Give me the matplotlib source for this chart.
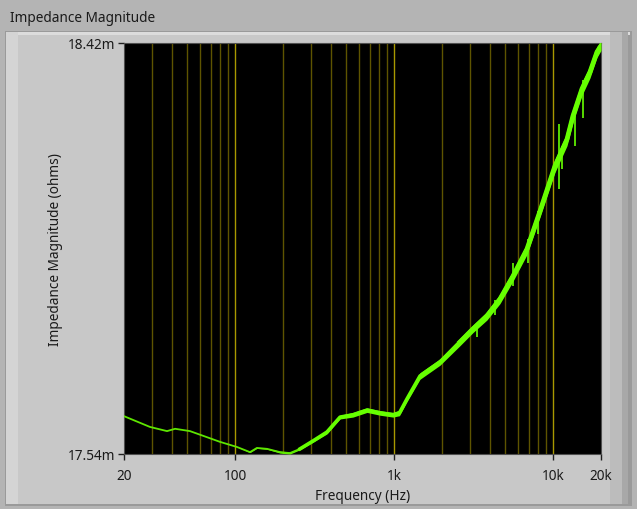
import numpy as np
import matplotlib
matplotlib.use("Agg")
import matplotlib.pyplot as plt
from matplotlib.patches import Rectangle
from matplotlib.ticker import FixedLocator, NullFormatter

plt.rcParams['font.family'] = ['Noto Sans', 'DejaVu Sans']

# ---- data (frequency in Hz, impedance magnitude in milliohms) ----
freq_hz = [20, 29.1, 37.3, 41.9, 52.0, 66.5, 80.3, 102.7, 124, 137, 159, 191.5, 221,
           256, 309, 378, 457, 551, 675, 815, 984, 1080, 1205, 1454, 1942, 2596,
           3133, 3838, 4633, 5592, 6848, 8268, 10272, 12226, 13332, 15190, 17052,
           18873, 20000]
impedance_mohm = [17.621, 17.598, 17.589, 17.594, 17.589, 17.576, 17.566, 17.555,
                  17.544, 17.553, 17.551, 17.544, 17.542, 17.551, 17.568, 17.587,
                  17.619, 17.624, 17.634, 17.628, 17.624, 17.628, 17.658, 17.707,
                  17.737, 17.780, 17.808, 17.836, 17.872, 17.921, 17.979, 18.060,
                  18.157, 18.214, 18.264, 18.322, 18.358, 18.401, 18.414]
# half-width of the noise band (milliohms)
noise_mohm = [0.0, 0.0, 0.0, 0.0, 0.0, 0.0, 0.0, 0.0, 0.001, 0.001, 0.001, 0.002,
              0.002, 0.002, 0.003, 0.004, 0.004, 0.005, 0.005, 0.005, 0.005, 0.006,
              0.006, 0.007, 0.007, 0.008, 0.008, 0.009, 0.010, 0.011, 0.012, 0.013,
              0.014, 0.014, 0.014, 0.014, 0.013, 0.012, 0.010]
# visible noise spikes: frequency, lower and upper value (milliohms)
spike_hz = [3300, 4300, 5600, 6900, 8000, 10900, 11400, 13800, 15400]
spike_low = [17.790, 17.838, 17.900, 17.950, 18.010, 18.107, 18.150, 18.200, 18.260]
spike_high = [17.820, 17.870, 17.950, 18.000, 18.060, 18.247, 18.200, 18.280, 18.340]

x_ticks = [20, 100, 1000, 10000, 20000]
x_tick_labels = ['20', '100', '1k', '10k', '20k']
y_min, y_max = 17.54, 18.42
y_tick_labels = ['17.54m', '18.42m']

FS = 9.8
W, H = 637, 510
fig = plt.figure(figsize=(W / 100, H / 100), dpi=100)
fig.patch.set_facecolor('#b4b4b4')

def px_rect(x0, y0, x1, y1, color, z=0):
    fig.patches.append(Rectangle((x0 / W, 1 - y1 / H), (x1 - x0) / W, (y1 - y0) / H,
                                 transform=fig.transFigure, facecolor=color,
                                 edgecolor='none', zorder=z))

# panel with bevel
px_rect(5, 32, 632, 507, '#9a9a9a', 0)
px_rect(6, 33, 628, 505, '#c8c8c8', 1)
px_rect(6, 33, 630, 36, '#dcdcdc', 2)
px_rect(6, 33, 18, 505, '#d4d4d4', 2)
px_rect(610, 33, 622, 505, '#bcbcbc', 2)
px_rect(622, 33, 628, 505, '#a8a8a8', 2)

fig.text(10 / W, 1 - 18 / H, 'Impedance Magnitude', fontsize=FS, color='#1a1a1a',
         ha='left', va='center')

ax = fig.add_axes([124 / W, 1 - 455 / H, 477 / W, 411 / H], zorder=5)
ax.set_facecolor('black')
ax.set_xscale('log')
ax.set_xlim(20, 20000)
ax.set_ylim(y_min, y_max)

# vertical grid lines
minor_pos = []
for dec in [10, 100, 1000, 10000]:
    for m in range(2, 10):
        v = dec * m
        if 20 < v < 20000:
            minor_pos.append(v)
for v in minor_pos:
    ax.axvline(v, color='#5e5400', lw=1.0, zorder=1)
for v in [100, 1000, 10000]:
    ax.axvline(v, color='#a89800', lw=1.0, zorder=1)

f = np.array(freq_hz)
z = np.array(impedance_mohm)
n = np.array(noise_mohm)
ax.fill_between(f, z - n, z + n, color='#66ff00', lw=0, zorder=3)
ax.plot(f, z, color='#5ee600', lw=1.3, zorder=4)
hi = f >= 256
ax.plot(f[hi], z[hi], color='#66ff00', lw=2.6, zorder=4)
top = f >= 2500
ax.plot(f[top], z[top], color='#66ff00', lw=3.4, zorder=4)
ax.vlines(spike_hz, spike_low, spike_high, color='#66ff00', lw=1.2, zorder=4)

ax.xaxis.set_major_locator(FixedLocator(x_ticks))
ax.set_xticklabels(x_tick_labels)
ax.xaxis.set_minor_locator(FixedLocator([]))
ax.xaxis.set_minor_formatter(NullFormatter())
ax.set_yticks([y_min, y_max])
ax.set_yticklabels(y_tick_labels)
ax.tick_params(axis='both', direction='out', length=4, width=1, color='#202020',
               labelsize=FS, labelcolor='#1a1a1a', pad=2)
ax.tick_params(axis='x', pad=6)
for s in ax.spines.values():
    s.set_color('#505050')
    s.set_linewidth(0.8)

ax.set_xlabel('Frequency (Hz)', fontsize=FS, color='#1a1a1a', labelpad=4)
ax.set_ylabel('Impedance Magnitude (ohms)', fontsize=FS, color='#1a1a1a', labelpad=4)

fig.savefig('out.png', dpi=100, facecolor=fig.get_facecolor())
